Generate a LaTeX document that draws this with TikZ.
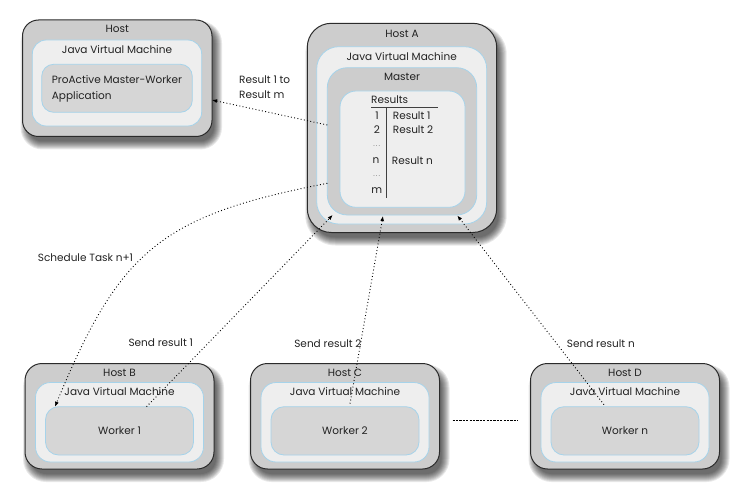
\documentclass[tikz,border=0pt]{standalone}
\usepackage{fontspec}
\setmainfont{Poppins}
\usetikzlibrary{calc,arrows.meta}
\pgfdeclarelayer{background}
\pgfsetlayers{background,main}

\definecolor{outerfill}{HTML}{CDCDCD}
\definecolor{jvmfill}{HTML}{EEEEEE}
\definecolor{innerfill}{HTML}{D6D6D6}
\definecolor{edgeblue}{HTML}{A6D3EA}
\definecolor{edgedark}{HTML}{2B2B2B}
\definecolor{txt}{HTML}{222222}

\tikzset{
  plainbox/.style={rectangle, anchor=north west, inner sep=0pt, outer sep=0pt},
  hostbox/.style={plainbox, fill=outerfill, draw=edgedark, line width=1pt},
  jvmbox/.style={plainbox, fill=jvmfill, draw=edgeblue, line width=0.8pt},
  innerbox/.style={plainbox, fill=innerfill, draw=edgeblue, line width=0.8pt},
  lbl/.style={font=\fontsize{10.5}{12}\selectfont, text=txt, inner sep=0pt},
  tdots/.style={font=\fontsize{7}{8}\selectfont, text=black!60, inner sep=0pt},
  tabrule/.style={draw=black!75, line width=1pt},
  flow/.style={draw=black, line width=0.9pt, dash pattern=on 0.9pt off 2.4pt,
               -{Latex[length=5pt,width=4pt]}},
  gapline/.style={draw=black, line width=1.2pt, dash pattern=on 2.2pt off 1.2pt},
}

% soft drop shadow under a named node, radius #2
\newcommand\softshadow[2]{%
  \begin{pgfonlayer}{background}
  \foreach \e in {-2,-1,...,6}{%
    \fill[black, opacity=0.09, rounded corners={(#2+\e)*1pt}]
      ($(#1.north west)+(4-\e,7-\e)$) rectangle ($(#1.south east)+(4+\e,7+\e)$);
  }
  \end{pgfonlayer}}

\begin{document}
\begin{tikzpicture}[x=1pt,y=-1pt]
\useasboundingbox (0,0) rectangle (750,500);

% ---------- Host (application) ----------
\node[hostbox, rounded corners=16pt, minimum width=189.5pt, minimum height=116.5pt] (host) at (22.5,20) {};
\node[jvmbox, rounded corners=14pt, minimum width=169.4pt, minimum height=86pt] (hjvm) at (32.3,40) {};
\node[innerbox, rounded corners=12pt, minimum width=150.6pt, minimum height=48pt] (app) at (41.7,64.3) {};
\softshadow{host}{16}
\node[lbl] (thost) at ($(host.north)+(0,9.3)$) {Host};
\node[lbl] (thjvm) at ($(hjvm.north)+(0,9.3)$) {Java Virtual Machine};
\node[lbl, anchor=west, align=left, font=\fontsize{10.5}{15.7}\selectfont] (tapp) at (51.7,88.8) {ProActive Master-Worker\\Application};

% ---------- Host A (master) ----------
\node[hostbox, rounded corners=24pt, minimum width=189.4pt, minimum height=209.2pt] (hostA) at (307.3,23.3) {};
\node[jvmbox, rounded corners=22pt, minimum width=170pt, minimum height=177.3pt] (ajvm) at (316.7,46.7) {};
\node[innerbox, fill=outerfill, rounded corners=20pt, minimum width=149.4pt, minimum height=147.3pt] (master) at (327.3,67.7) {};
\node[jvmbox, rounded corners=16pt, minimum width=125pt, minimum height=116.3pt] (results) at (340,91) {};
\softshadow{hostA}{24}
\node[lbl] (thostA) at ($(hostA.north)+(0,11)$) {Host A};
\node[lbl] (tajvm) at ($(ajvm.north)+(0,10)$) {Java Virtual Machine};
\node[lbl] (tmaster) at ($(master.north)+(0,9)$) {Master};

% results table
\node[lbl, anchor=west] (tres) at (371,100) {Results};
\draw[tabrule] (371,107.7) -- (438.3,107.7);
\draw[tabrule] (386,107.7) -- (386,198.3);
\node[lbl] (r1) at (377,115.7) {1};
\node[lbl, anchor=west] (v1) at (392.7,115.7) {Result 1};
\node[lbl] (r2) at (377,130) {2};
\node[lbl, anchor=west] (v2) at (392.7,130) {Result 2};
\node[tdots] (d1) at (376.7,146.5) {.\,.\,.};
\node[lbl] (rn) at (376,160.7) {n};
\node[lbl, anchor=west] (vn) at (391.7,160.7) {Result n};
\node[tdots] (d2) at (376.7,176) {.\,.\,.};
\node[lbl] (rm) at (376.7,190.7) {m};

% ---------- Host B ----------
\node[hostbox, rounded corners=17pt, minimum width=189pt, minimum height=105.5pt] (hostB) at (25,363.5) {};
\node[jvmbox, rounded corners=15pt, minimum width=168pt, minimum height=79.5pt] (jvmB) at (35.5,382.5) {};
\node[innerbox, rounded corners=13pt, minimum width=148pt, minimum height=48.3pt] (w1) at (45.5,406.7) {};
\softshadow{hostB}{17}
\node[lbl] (thostB) at ($(hostB.north)+(0,9)$) {Host B};
\node[lbl] (tjvmB) at ($(jvmB.north)+(0,9.2)$) {Java Virtual Machine};
\node[lbl] (tw1) at (w1.center) {Worker 1};

% ---------- Host C ----------
\node[hostbox, rounded corners=17pt, minimum width=189pt, minimum height=105.5pt] (hostC) at (250.5,363.5) {};
\node[jvmbox, rounded corners=15pt, minimum width=168pt, minimum height=79.5pt] (jvmC) at (261,382.5) {};
\node[innerbox, rounded corners=13pt, minimum width=148pt, minimum height=48.3pt] (w2) at (271,406.7) {};
\softshadow{hostC}{17}
\node[lbl] (thostC) at ($(hostC.north)+(0,9)$) {Host C};
\node[lbl] (tjvmC) at ($(jvmC.north)+(0,9.2)$) {Java Virtual Machine};
\node[lbl] (tw2) at (w2.center) {Worker 2};

% ---------- Host D ----------
\node[hostbox, rounded corners=17pt, minimum width=189pt, minimum height=105.5pt] (hostD) at (530.5,363.5) {};
\node[jvmbox, rounded corners=15pt, minimum width=168pt, minimum height=79.5pt] (jvmD) at (541,382.5) {};
\node[innerbox, rounded corners=13pt, minimum width=148pt, minimum height=48.3pt] (w3) at (551,406.7) {};
\softshadow{hostD}{17}
\node[lbl] (thostD) at ($(hostD.north)+(0,9)$) {Host D};
\node[lbl] (tjvmD) at ($(jvmD.north)+(0,9.2)$) {Java Virtual Machine};
\node[lbl] (tw3) at (w3.center) {Worker n};

% gap between C and D
\draw[gapline] ($(hostC.east)+(13,4)$) -- ($(hostD.west)+(-13,4)$);

% ---------- connectors ----------
\draw[flow] ($(master.west)+(0,-16.35)$) -- ($(host.east)+(0,21.75)$);
\draw[flow] ($(master.west)+(0,41.95)$) .. controls +(-166.7,32.3) and +(64.6,-156.4) .. ($(w1.north west)+(9.5,0)$);
\draw[flow] ($(w1.north west)+(101,0)$) -- ($(master.south west)+(5.4,0)$);
\draw[flow] ($(w2.north)+(5,-3)$) -- ($(master.south)+(-19,1)$);
\draw[flow] ($(w3.north)+(-21,-2)$) -- ($(master.south)+(55.3,0.5)$);

% ---------- labels ----------
\node[lbl, anchor=west, align=left, font=\fontsize{10.5}{14.3}\selectfont] (lres) at (239,87.2) {Result 1 to\\Result m};
\node[lbl, anchor=west] (lsched) at (37.7,257.3) {Schedule Task n+1};
\node[lbl, anchor=west] (ls1) at (128.3,342.5) {Send result 1};
\node[lbl, anchor=east] (ls2) at (361.7,344) {Send result 2};
\node[lbl, anchor=west] (lsn) at (566.7,344) {Send result n};
\end{tikzpicture}
\end{document}
